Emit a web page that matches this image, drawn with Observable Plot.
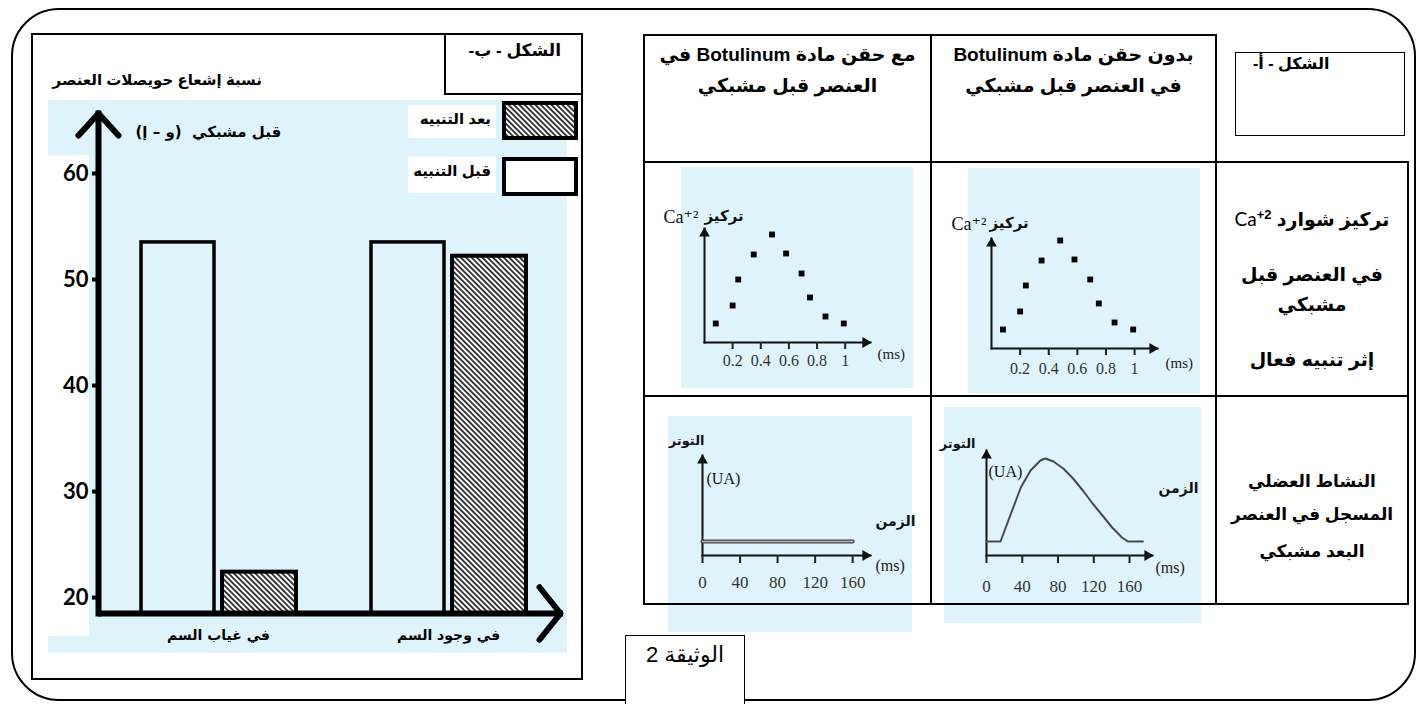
<!DOCTYPE html>
<html lang="ar">
<head>
<meta charset="utf-8">
<script src="https://cdn.jsdelivr.net/npm/d3@7"></script>
<script src="https://cdn.jsdelivr.net/npm/@observablehq/plot@0.6"></script>
<style>
html,body{margin:0;padding:0;background:#fff;}
#page{position:relative;width:1421px;height:704px;overflow:hidden;background:#fff;font-family:"Liberation Sans","DejaVu Sans",sans-serif;color:#000;}
.a{position:absolute;}
.ar{position:absolute;direction:rtl;white-space:nowrap;font-weight:bold;}
.ln{position:absolute;background:#000;}
.bg{position:absolute;background:#dff3fb;}
.cc{position:absolute;text-align:center;direction:rtl;white-space:nowrap;font-weight:bold;}
svg{display:block;}
</style>
</head>
<body>
<div id="page">
  <!-- outer rounded frame -->
  <div class="a" style="left:11px;top:8px;width:1401px;height:689px;border:2px solid #000;border-radius:48px;"></div>

  <!-- figure b box -->
  <div class="a" style="left:31px;top:33px;width:548px;height:643px;border:2px solid #000;"></div>
  <div class="a" style="left:444px;top:33px;width:135px;height:58px;border:2px solid #000;"></div>
  <div class="ar" id="figB" style="right:860px;top:41px;font-size:17px;line-height:20px;"></div>
  <div class="ar" id="yTitle" style="right:1159px;top:71px;font-size:15px;line-height:18px;"></div>

  <div class="bg" style="left:48px;top:100px;width:519px;height:553px;"></div>
  <div class="a" style="left:48px;top:155px;width:41px;height:481px;background:#fff;"></div>
  <div class="a" id="barChart" style="left:48px;top:100px;"></div>

  <!-- legend -->
  <div class="a" style="left:408px;top:105px;width:88px;height:33px;background:#fff;"></div>
  <div class="a" style="left:408px;top:157px;width:88px;height:36px;background:#fff;"></div>
  <div class="ar" id="legAfter" style="right:930px;top:110px;font-size:15px;line-height:18px;"></div>
  <div class="ar" id="legBefore" style="right:930px;top:162px;font-size:15px;line-height:18px;"></div>
  <div class="a" id="swAfter" style="left:502px;top:101px;"></div>
  <div class="a" id="swBefore" style="left:502px;top:157px;"></div>

  <!-- figure a: small charts backgrounds + charts -->
  <div class="bg" style="left:681px;top:167px;width:232px;height:221px;"></div>
  <div class="bg" style="left:968px;top:168px;width:232px;height:225px;"></div>
  <div class="bg" style="left:668px;top:416px;width:244px;height:216px;"></div>
  <div class="bg" style="left:944px;top:407px;width:257px;height:216px;"></div>
  <div class="a" id="s1" style="left:681px;top:167px;"></div>
  <div class="a" id="s2" style="left:968px;top:168px;"></div>
  <div class="a" id="l1" style="left:668px;top:416px;"></div>
  <div class="a" id="l2" style="left:944px;top:407px;"></div>

  <!-- table lines -->
  <div class="ln" style="left:644px;top:34px;width:573px;height:2px;"></div>
  <div class="ln" style="left:644px;top:161px;width:765px;height:2px;"></div>
  <div class="ln" style="left:644px;top:395px;width:765px;height:2px;"></div>
  <div class="ln" style="left:644px;top:603px;width:765px;height:2px;"></div>
  <div class="ln" style="left:643px;top:34px;width:2px;height:571px;"></div>
  <div class="ln" style="left:930px;top:34px;width:2px;height:571px;"></div>
  <div class="ln" style="left:1215px;top:34px;width:2px;height:571px;"></div>
  <div class="ln" style="left:1407px;top:161px;width:2px;height:444px;"></div>

  <!-- figure a label box -->
  <div class="a" style="left:1235px;top:52px;width:168px;height:82px;border:1.5px solid #000;"></div>
  <div class="ar" id="figA" style="left:1253px;top:54px;font-size:16px;line-height:20px;"></div>

  <!-- header texts -->
  <div class="cc" id="h1" style="left:644px;width:287px;top:39px;font-size:19px;line-height:31px;"></div>
  <div class="cc" id="h2" style="left:931px;width:285px;top:39px;font-size:19px;line-height:31px;"></div>

  <!-- row labels -->
  <div class="cc" id="r2a" style="left:1216px;width:192px;top:202px;font-size:19px;line-height:26px;"></div>
  <div class="cc" id="r2b" style="left:1216px;width:192px;top:264px;font-size:19px;line-height:22px;"></div>
  <div class="cc" id="r2c" style="left:1216px;width:192px;top:294px;font-size:19px;line-height:22px;"></div>
  <div class="cc" id="r2d" style="left:1216px;width:192px;top:349px;font-size:19px;line-height:22px;"></div>
  <div class="cc" id="r3a" style="left:1216px;width:192px;top:471px;font-size:17px;line-height:22px;"></div>
  <div class="cc" id="r3b" style="left:1216px;width:192px;top:504px;font-size:17px;line-height:22px;"></div>
  <div class="cc" id="r3c" style="left:1216px;width:192px;top:541px;font-size:17px;line-height:22px;"></div>

  <!-- document label -->
  <div class="a" style="left:625px;top:635px;width:118px;height:90px;border:1.5px solid #000;background:#fff;"></div>
  <div class="cc" id="doc" style="left:626px;width:118px;top:642px;font-size:22px;line-height:26px;font-weight:normal;"></div>
</div>

<script>
// ---------------- data ----------------
const categories = ["في غياب السم", "في وجود السم"];
const seriesLabels = ["قبل التنبيه", "بعد التنبيه"];
const beforeValues = [53.5, 53.5];
const afterValues = [22.4, 52.2];
const yTickValues = [20, 30, 40, 50, 60];
const yTitle = "نسبة إشعاع حويصلات العنصر";
const yTitle2 = "قبل مشبكي";
const yUnit = "(إ – و)";
const figBLabel = "الشكل - ب-";
const figALabel = "الشكل - أ-";
const docLabel = "الوثيقة 2";

const headerWith = ["مع حقن مادة Botulinum في", "العنصر قبل مشبكي"];
const headerWithout = ["بدون حقن مادة Botulinum", "في العنصر قبل مشبكي"];
const row2Lines = ["تركيز شوارد", "في العنصر قبل", "مشبكي", "إثر تنبيه فعال"];
const row3Lines = ["النشاط العضلي", "المسجل في العنصر", "البعد مشبكي"];

const caTimes  = [0.08, 0.2, 0.24, 0.35, 0.48, 0.58, 0.69, 0.75, 0.86, 0.99];
const caLevels = [1.9, 3.7, 6.3, 8.8, 10.8, 8.9, 6.9, 4.5, 2.6, 1.9];
const caTicks = [0.2, 0.4, 0.6, 0.8, 1];
const caLabelIon = "Ca⁺²";
const caLabelWord = "تركيز";

const tensionTimes   = [0, 15.7, 27.4, 38.4, 49.3, 60.3, 65.8, 74.9, 85.9, 96.8, 107.8, 118.7, 129.7, 140.6, 151.6, 158.2, 175];
const tensionControl = [1.4, 1.4, 4.2, 6.8, 8.5, 9.5, 9.7, 9.4, 8.7, 7.7, 6.5, 5.2, 4.0, 2.8, 1.8, 1.4, 1.4];
const toxinTimes   = [0, 160];
const tensionToxin = [1.4, 1.4];
const timeTicks = [0, 40, 80, 120, 160];
const tensionLabel = "التوتر";
const timeLabel = "الزمن";
const uaLabel = "(UA)";
const msLabel = "(ms)";

// ---------------- helpers ----------------
const AR = "'DejaVu Sans', sans-serif";
const SERIF = "'Liberation Serif', 'DejaVu Serif', serif";

function addHatch(svg, id) {
  const s = 3.8;
  const defs = d3.select(svg).insert("defs", ":first-child");
  const p = defs.append("pattern").attr("id", id).attr("patternUnits", "userSpaceOnUse")
    .attr("width", s).attr("height", s).attr("patternTransform", "rotate(-45)");
  p.append("rect").attr("width", s).attr("height", s).attr("fill", "#fff");
  p.append("line").attr("x1", s / 2).attr("y1", 0).attr("x2", s / 2).attr("y2", s)
    .attr("stroke", "#000").attr("stroke-width", 1.5);
}

const chevronUp = {draw(ctx, size) { const r = Math.sqrt(size / Math.PI); ctx.moveTo(-r, 1.1 * r); ctx.lineTo(0, 0); ctx.lineTo(r, 1.1 * r); }};
const chevronRight = {draw(ctx, size) { const r = Math.sqrt(size / Math.PI); ctx.moveTo(-r, -1.25 * r); ctx.lineTo(0, 0); ctx.lineTo(-r, 1.25 * r); }};

function setText(id, html) { document.getElementById(id).innerHTML = html; }

// ---------------- html texts ----------------
setText("figB", figBLabel);
setText("yTitle", yTitle);
setText("legAfter", seriesLabels[1]);
setText("legBefore", seriesLabels[0]);
setText("figA", figALabel);
setText("h1", headerWith.join("<br>"));
setText("h2", headerWithout.join("<br>"));
setText("r2a", row2Lines[0] + " <span style=\"font-weight:normal;font-family:Lato,sans-serif\">Ca</span><sup style=\"font-size:13px\">+2</sup>");
setText("r2b", row2Lines[1]);
setText("r2c", row2Lines[2]);
setText("r2d", row2Lines[3]);
setText("r3a", row3Lines[0]);
setText("r3b", row3Lines[1]);
setText("r3c", row3Lines[2]);
setText("doc", docLabel);

// ---------------- legend swatches ----------------
function swatch(hatched, id) {
  const svg = d3.create("svg").attr("width", 77).attr("height", 39);
  if (hatched) addHatch(svg.node(), id);
  svg.append("rect").attr("x", 2).attr("y", 2).attr("width", 72).attr("height", 35)
    .attr("fill", hatched ? `url(#${id})` : "#fff").attr("stroke", "#000").attr("stroke-width", 4);
  return svg.node();
}
document.getElementById("swAfter").append(swatch(true, "hatchLegend"));
document.getElementById("swBefore").append(swatch(false, "plainLegend"));

// ---------------- bar chart (figure b) ----------------
const yMin = 18.5, yMax = 65.66;
const barRows = categories.map((c, i) => ({category: c, before: beforeValues[i], after: afterValues[i]}));
const bar = Plot.plot({
  width: 519, height: 553,
  marginLeft: 50, marginRight: 4, marginTop: 13, marginBottom: 40,
  style: {background: "transparent", overflow: "visible"},
  x: {domain: categories, padding: 0, insetLeft: 4, axis: null},
  y: {domain: [yMin, yMax], axis: null},
  marks: [
    Plot.barY(barRows, {x: "category", y1: () => yMin, y2: "before", fill: "none", stroke: "#000", strokeWidth: 3.5, insetLeft: 38, insetRight: 119}),
    Plot.barY(barRows, {x: "category", y1: () => yMin, y2: "after", fill: "url(#hatchBar)", stroke: "#000", strokeWidth: 4, insetLeft: 119, insetRight: 37}),
    Plot.axisY({ticks: yTickValues, label: null, tickSize: 6, tickPadding: 4, strokeWidth: 4, fontSize: 22, fontWeight: "bold", fontFamily: "Lato, sans-serif", fill: "#000"}),
    Plot.axisX({label: null, tickSize: 0, tickPadding: 17, fontSize: 14, fontWeight: "bold", fontFamily: AR, fill: "#000"}),
    Plot.frame({anchor: "left", stroke: "#000", strokeWidth: 6}),
    Plot.ruleY([yMin], {stroke: "#000", strokeWidth: 6}),
    Plot.dot([0], {frameAnchor: "top-left", symbol: chevronUp, r: 20, fill: "none", stroke: "#000", strokeWidth: 6, strokeLinecap: "round", strokeLinejoin: "round"}),
    Plot.dot([0], {frameAnchor: "bottom-right", symbol: chevronRight, r: 21, fill: "none", stroke: "#000", strokeWidth: 6, strokeLinecap: "round", strokeLinejoin: "round", dx: -3}),
    Plot.text(["\u202D" + yUnit + "\u202C  " + yTitle2], {text: d => d, frameAnchor: "top-left", textAnchor: "start", dx: 37, dy: 13, fontSize: 15, fontWeight: "bold", fontFamily: AR})
  ]
});
addHatch(bar, "hatchBar");
document.getElementById("barChart").append(bar);

// ---------------- small charts (figure a) ----------------
const caRows = caTimes.map((t, i) => ({t, c: caLevels[i]}));
const controlRows = tensionTimes.map((t, i) => ({t, v: tensionControl[i]}));
const toxinRows = toxinTimes.map((t, i) => ({t, v: tensionToxin[i]}));

function axesMarks() {
  return [
    Plot.frame({anchor: "left", stroke: "#111", strokeWidth: 2}),
    Plot.frame({anchor: "bottom", stroke: "#111", strokeWidth: 2}),
    Plot.dot([0], {frameAnchor: "top-left", symbol: "triangle", r: 4, fill: "#111", dy: 5}),
    Plot.dot([0], {frameAnchor: "bottom-right", symbol: "triangle", rotate: 90, r: 4, fill: "#111", dx: -5})
  ];
}

function caChart({width, height, marginLeft, marginRight, marginTop, marginBottom, xMax, yMaxV, tickPadding, ionDx, wordDx, labelDy, msDx, msDy}) {
  return Plot.plot({
    width, height, marginLeft, marginRight, marginTop, marginBottom,
    style: {background: "transparent", overflow: "visible"},
    x: {domain: [0, xMax], axis: null},
    y: {domain: [0, yMaxV], axis: null},
    marks: [
      ...axesMarks(),
      Plot.axisX({ticks: caTicks, label: null, tickFormat: d => String(d), tickSize: 7, tickPadding, fontSize: 16, fontFamily: SERIF, fill: "#333", stroke: "#222", strokeWidth: 2}),
      Plot.dot(caRows, {x: "t", y: "c", symbol: "square", r: 3.3, fill: "#000"}),
      Plot.text([caLabelIon], {text: d => d, frameAnchor: "top-left", textAnchor: "end", dx: ionDx, dy: labelDy, fontSize: 18, fontFamily: SERIF, fill: "#111"}),
      Plot.text([caLabelWord], {text: d => d, frameAnchor: "top-left", textAnchor: "start", dx: wordDx, dy: labelDy, fontSize: 15, fontWeight: "bold", fontFamily: AR, fill: "#111"}),
      Plot.text([msLabel], {text: d => d, frameAnchor: "bottom-right", textAnchor: "start", dx: msDx, dy: msDy, fontSize: 15, fontFamily: SERIF, fill: "#222"})
    ]
  });
}

function tensionChart({width, height, marginLeft, marginRight, marginTop, marginBottom, xMax, yMaxV, tickPadding, rows, doubleLine, tDx, tDy, uaDx, uaDy, zDx, zDy, msDx, msDy}) {
  const lineMarks = doubleLine
    ? [Plot.line(rows, {x: "t", y: "v", stroke: "#444", strokeWidth: 4}), Plot.line(rows, {x: "t", y: "v", stroke: "#b5b5b5", strokeWidth: 1.4})]
    : [Plot.line(rows, {x: "t", y: "v", stroke: "#4a4a4a", strokeWidth: 2})];
  return Plot.plot({
    width, height, marginLeft, marginRight, marginTop, marginBottom,
    style: {background: "transparent", overflow: "visible"},
    x: {domain: [0, xMax], axis: null},
    y: {domain: [0, yMaxV], axis: null},
    marks: [
      ...axesMarks(),
      Plot.axisX({ticks: timeTicks, label: null, tickFormat: d => String(d), tickSize: 8, tickPadding, fontSize: 17, fontFamily: SERIF, fill: "#333", stroke: "#222", strokeWidth: 2}),
      ...lineMarks,
      Plot.text([tensionLabel], {text: d => d, frameAnchor: "top-left", textAnchor: "end", dx: tDx, dy: tDy, fontSize: 13, fontWeight: "bold", fontFamily: AR, fill: "#111"}),
      Plot.text([uaLabel], {text: d => d, frameAnchor: "top-left", textAnchor: "start", dx: uaDx, dy: uaDy, fontSize: 16, fontFamily: SERIF, fill: "#111"}),
      Plot.text([timeLabel], {text: d => d, frameAnchor: "bottom-right", textAnchor: "start", dx: zDx, dy: zDy, fontSize: 14, fontWeight: "bold", fontFamily: AR, fill: "#111"}),
      Plot.text([msLabel], {text: d => d, frameAnchor: "bottom-right", textAnchor: "start", dx: msDx, dy: msDy, fontSize: 16, fontFamily: SERIF, fill: "#222"})
    ]
  });
}

document.getElementById("s1").append(caChart({
  width: 232, height: 221, marginLeft: 23, marginRight: 43, marginTop: 61, marginBottom: 46,
  xMax: 1.18, yMaxV: 11.4, tickPadding: 5, ionDx: -6, wordDx: 0, labelDy: -18, msDx: 7, msDy: 16
}));
document.getElementById("s2").append(caChart({
  width: 232, height: 225, marginLeft: 23, marginRight: 43, marginTop: 70, marginBottom: 45,
  xMax: 1.16, yMaxV: 11.0, tickPadding: 7, ionDx: -5, wordDx: -2, labelDy: -21, msDx: 8, msDy: 19
}));
document.getElementById("l1").append(tensionChart({
  width: 244, height: 216, marginLeft: 34, marginRight: 42, marginTop: 39, marginBottom: 77,
  xMax: 179, yMaxV: 10, tickPadding: 12, rows: toxinRows, doubleLine: true,
  tDx: 2, tDy: -20, uaDx: 4, uaDy: 17, zDx: 5, zDy: -30, msDx: 5, msDy: 15
}));
document.getElementById("l2").append(tensionChart({
  width: 257, height: 216, marginLeft: 42, marginRight: 49, marginTop: 43, marginBottom: 68,
  xMax: 185.7, yMaxV: 10.5, tickPadding: 16, rows: controlRows, doubleLine: false,
  tDx: -11, tDy: -12, uaDx: 2, uaDy: 15, zDx: 6, zDy: -63, msDx: 3, msDy: 17
}));
</script>
</body>
</html>
